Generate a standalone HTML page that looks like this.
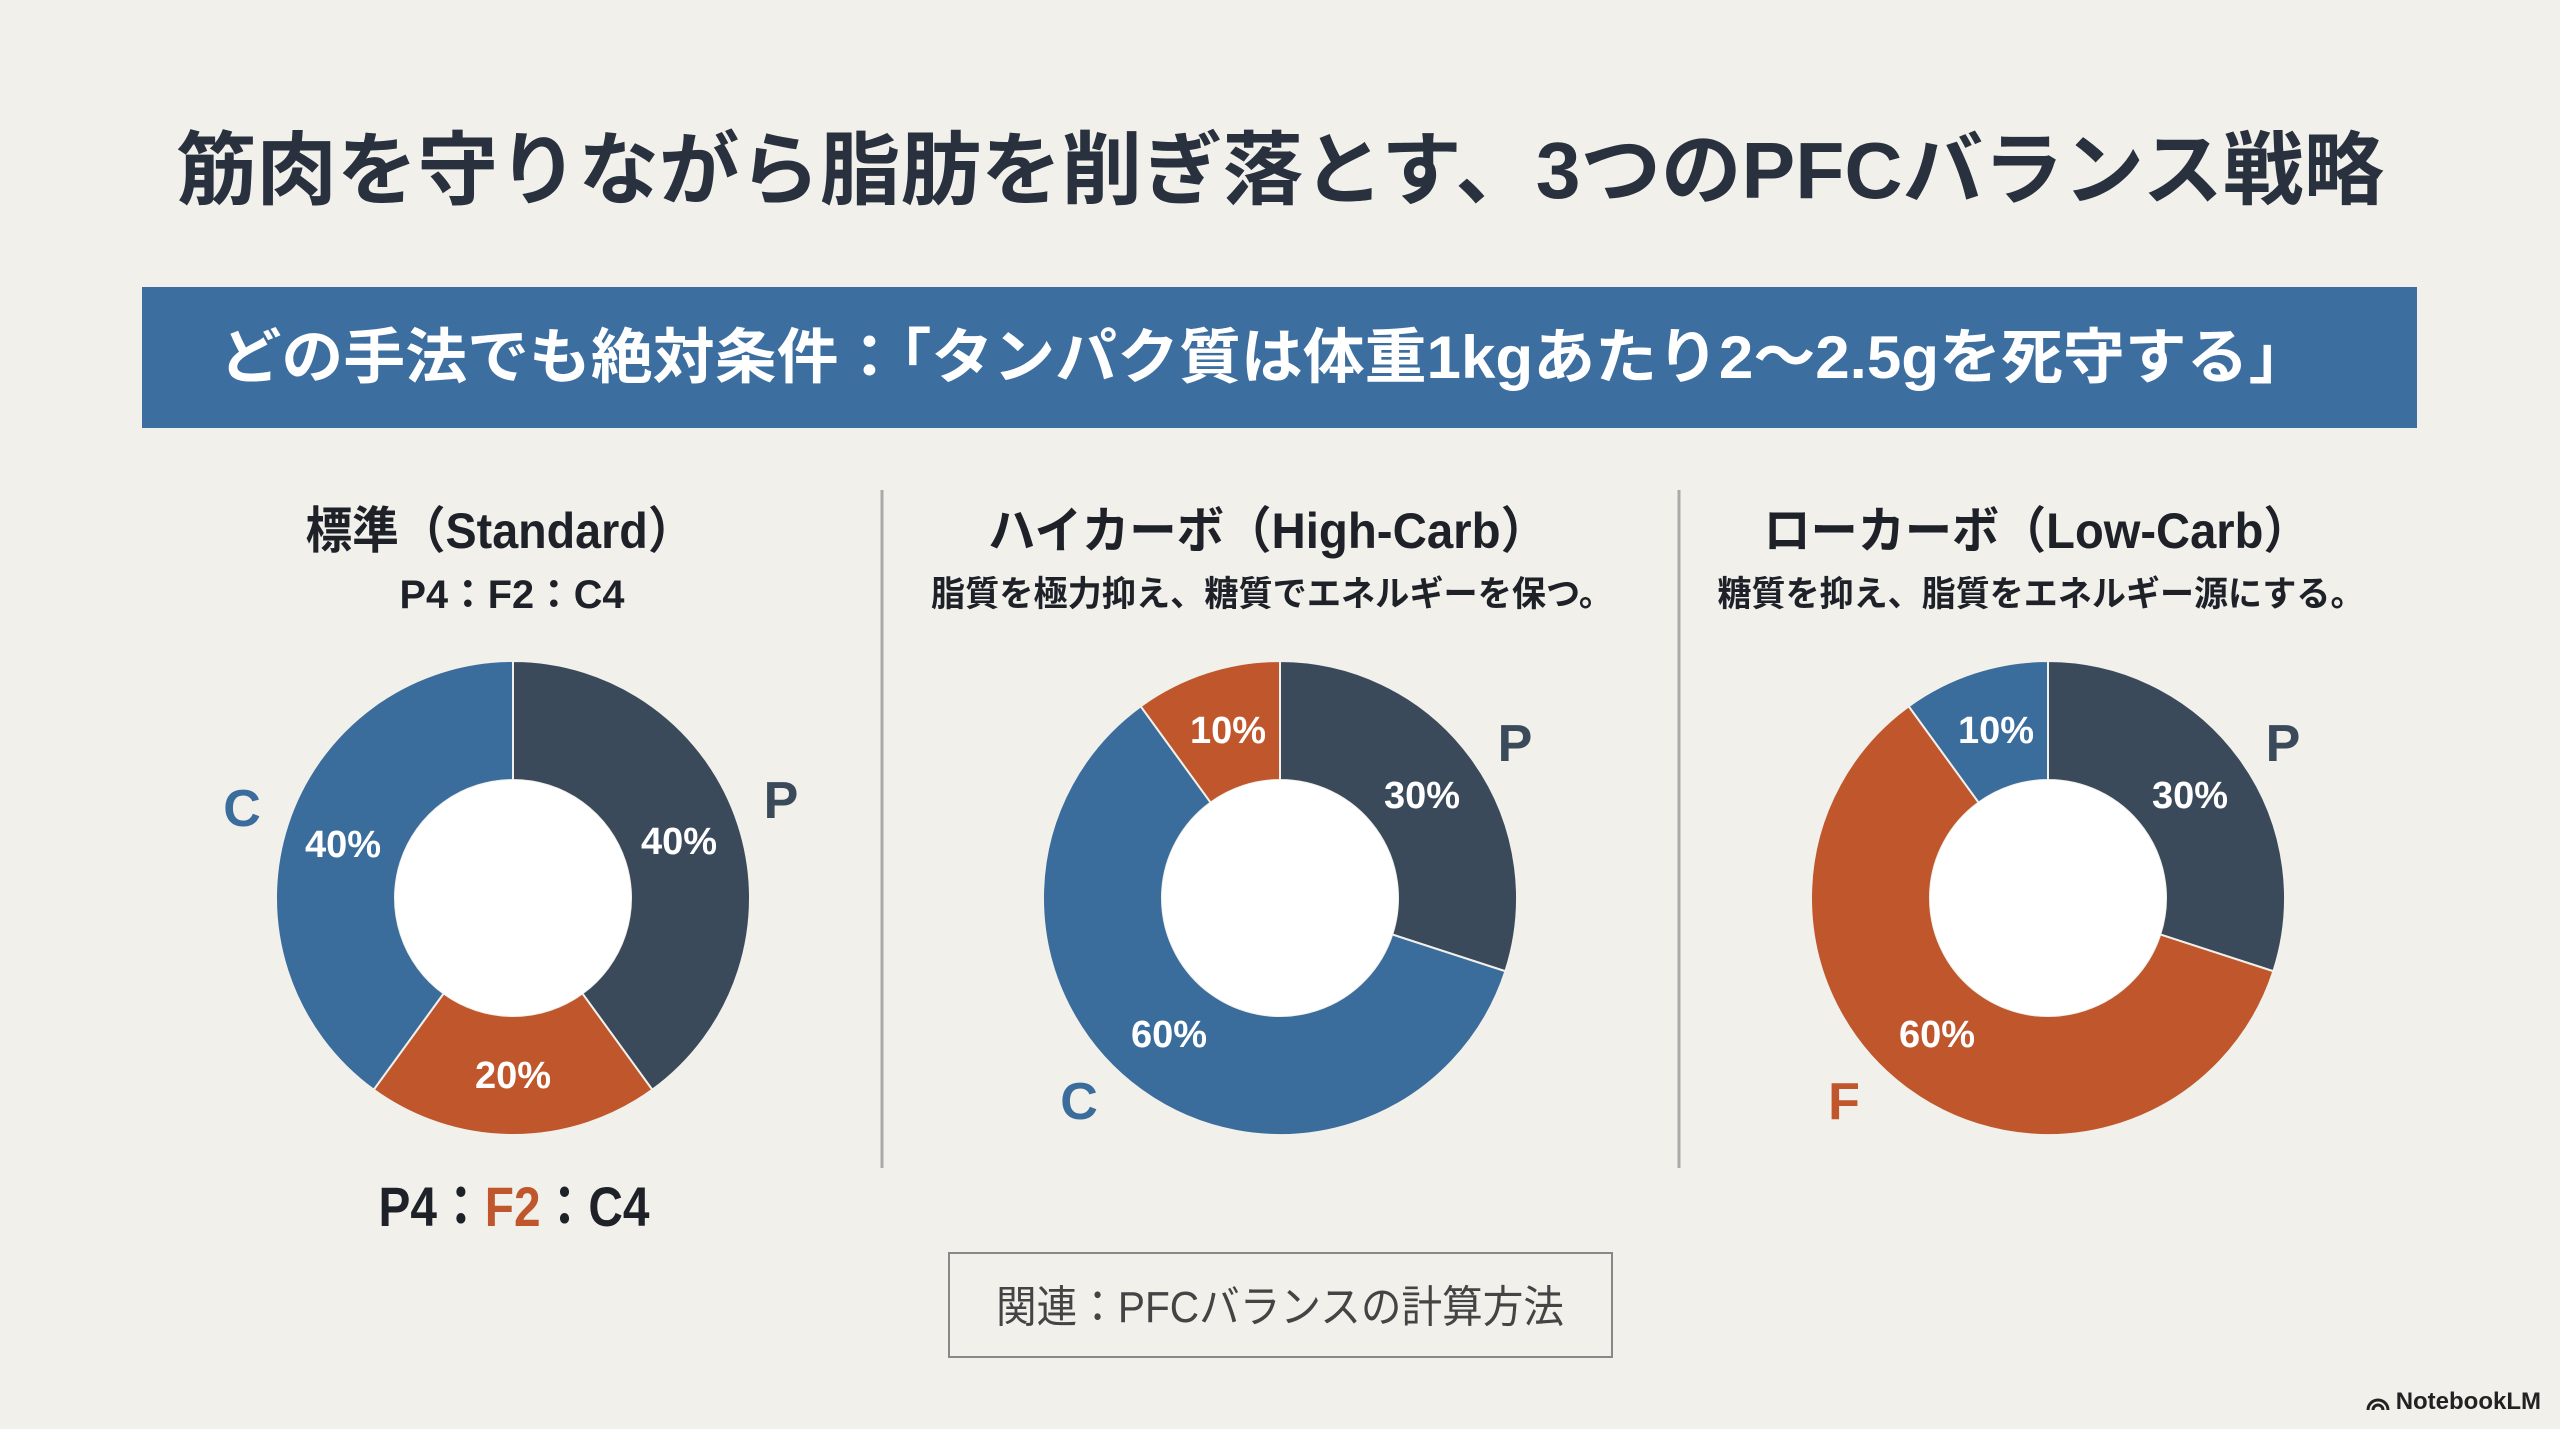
<!DOCTYPE html>
<html><head><meta charset="utf-8"><style>
html,body{margin:0;padding:0;background:#f1f0eb;}
svg{display:block;}
text{font-family:"Liberation Sans","Noto Sans CJK JP",sans-serif;}
</style></head><body>
<svg id="s" width="2560" height="1429" viewBox="0 0 2560 1429" xmlns="http://www.w3.org/2000/svg">
<rect width="2560" height="1429" fill="#f1f0eb"/>
<text x="1280" y="198" text-anchor="middle" font-size="80" font-weight="bold" fill="#28313d" textLength="2208" lengthAdjust="spacingAndGlyphs">筋肉を守りながら脂肪を削ぎ落とす、3つのPFCバランス戦略</text>
<rect x="142" y="287" width="2275" height="141" fill="#3c6ea0"/>
<text x="1265" y="378" text-anchor="middle" font-size="60" font-weight="bold" fill="#ffffff" textLength="2091" lengthAdjust="spacingAndGlyphs">どの手法でも絶対条件：「タンパク質は体重1kgあたり2〜2.5gを死守する」</text>
<line x1="882" y1="490" x2="882" y2="1168" stroke="#aaa" stroke-width="3"/>
<line x1="1679" y1="490" x2="1679" y2="1168" stroke="#aaa" stroke-width="3"/>
<g font-weight="bold" fill="#1e2228">
<text x="500" y="548" text-anchor="middle" font-size="50" textLength="389" lengthAdjust="spacingAndGlyphs">標準（Standard）</text>
<text x="512" y="608" text-anchor="middle" font-size="40" textLength="225" lengthAdjust="spacingAndGlyphs">P4：F2：C4</text>
<text x="1268" y="548" text-anchor="middle" font-size="50" textLength="560" lengthAdjust="spacingAndGlyphs">ハイカーボ（High-Carb）</text>
<text x="1272" y="606" text-anchor="middle" font-size="35" textLength="682" lengthAdjust="spacingAndGlyphs">脂質を極力抑え、糖質でエネルギーを保つ。</text>
<text x="2037" y="548" text-anchor="middle" font-size="50" textLength="547" lengthAdjust="spacingAndGlyphs">ローカーボ（Low-Carb）</text>
<text x="2041" y="606" text-anchor="middle" font-size="35" textLength="647" lengthAdjust="spacingAndGlyphs">糖質を抑え、脂質をエネルギー源にする。</text>
<text x="514" y="1226" text-anchor="middle" font-size="56" textLength="271" lengthAdjust="spacingAndGlyphs">P4：<tspan fill="#c0562b">F2</tspan>：C4</text>
</g>
<g id="donuts"></g>
<g font-weight="bold" font-size="38" fill="#fff" text-anchor="middle">
<text x="343" y="857">40%</text><text x="679" y="854">40%</text><text x="513" y="1088">20%</text>
<text x="1228" y="743">10%</text><text x="1422" y="808">30%</text><text x="1169" y="1047">60%</text>
<text x="1996" y="743">10%</text><text x="2190" y="808">30%</text><text x="1937" y="1047">60%</text>
</g>
<g font-weight="bold" font-size="52" text-anchor="middle">
<text x="242" y="826" fill="#3a6c9c">C</text><text x="781" y="818" fill="#3b4a5a">P</text>
<text x="1515" y="761" fill="#3b4a5a">P</text><text x="1079" y="1119" fill="#3a6c9c">C</text>
<text x="2283" y="761" fill="#3b4a5a">P</text><text x="1844" y="1119" fill="#c0562b">F</text>
</g>
<rect x="949" y="1253" width="663" height="104" fill="none" stroke="#888" stroke-width="2"/>
<text x="1280" y="1322" text-anchor="middle" font-size="44" fill="#444" textLength="568" lengthAdjust="spacingAndGlyphs">関連：PFCバランスの計算方法</text>
<text x="2541" y="1409" text-anchor="end" font-size="24" font-weight="bold" fill="#222">NotebookLM</text>
<path d="M2368 1410 a10 10 0 0 1 20 0 M2373 1410 a5 5 0 0 1 10 0" fill="none" stroke="#222" stroke-width="3"/>
</svg>
<script>
var D="#3b4a5a",B="#3a6c9c",O="#c0562b";
var charts=[[513,[[0,144,D],[144,216,O],[216,360,B]]],[1280,[[0,108,D],[108,324,B],[324,360,O]]],[2048,[[0,108,D],[108,324,O],[324,360,B]]]];
var cy=898,R=237,r=118,g=document.getElementById('donuts'),h='';
function pt(cx,rad,a){a=(a-90)*Math.PI/180;return (cx+rad*Math.cos(a)).toFixed(2)+' '+(cy+rad*Math.sin(a)).toFixed(2);}
charts.forEach(function(c){var cx=c[0];c[1].forEach(function(s){var l=(s[1]-s[0])>180?1:0;
h+='<path d="M'+pt(cx,R,s[0])+' A'+R+' '+R+' 0 '+l+' 1 '+pt(cx,R,s[1])+' L'+pt(cx,r,s[1])+' A'+r+' '+r+' 0 '+l+' 0 '+pt(cx,r,s[0])+' Z" fill="'+s[2]+'" stroke="#f1f0eb" stroke-width="2"/>';});
h+='<circle cx="'+cx+'" cy="'+cy+'" r="'+r+'" fill="#fff"/>';});
g.innerHTML=h;
</script>
</body></html>
